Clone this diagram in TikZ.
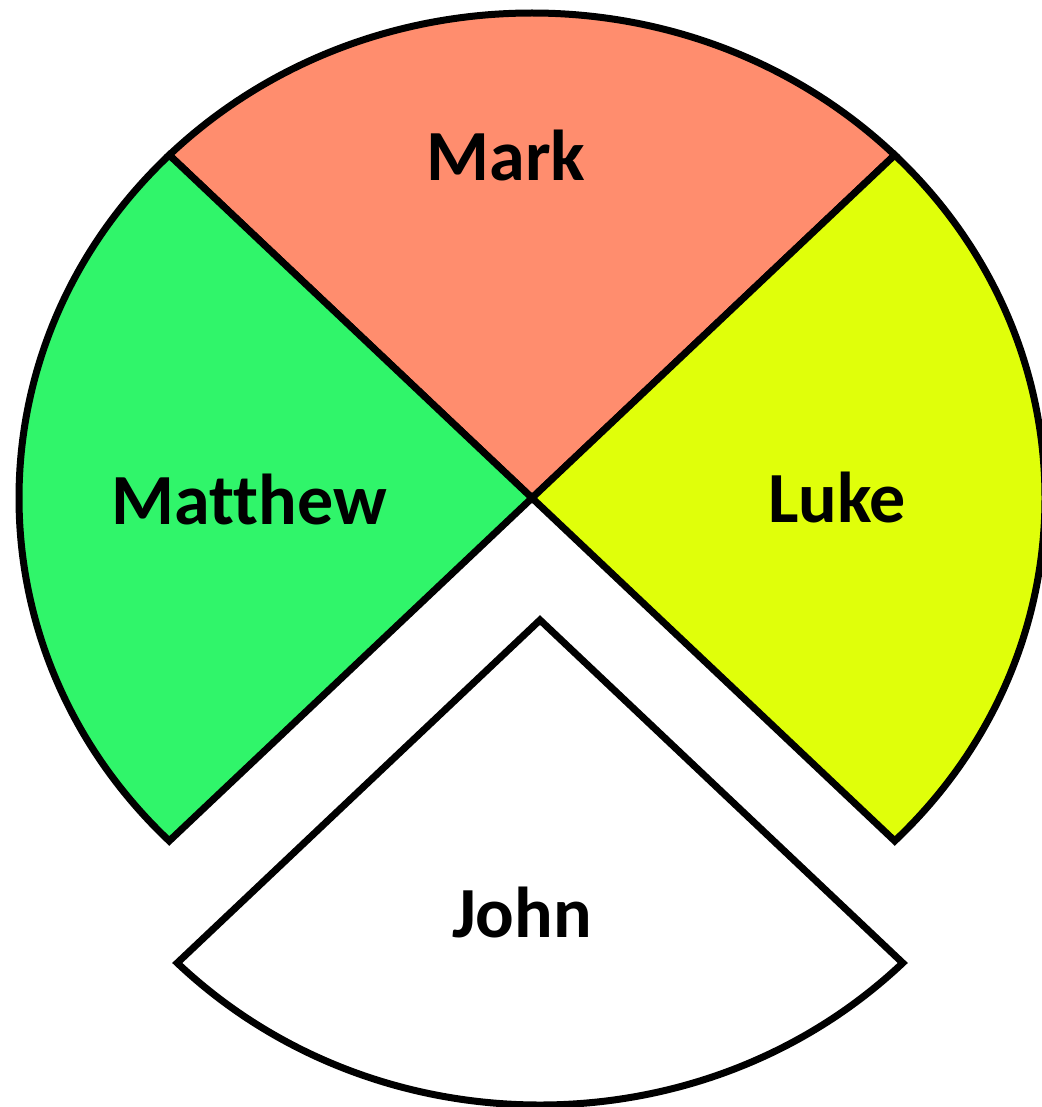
\documentclass[tikz,border=0pt]{standalone}
\usepackage{fontspec}
\setmainfont{Carlito}[Ligatures=NoCommon]
\definecolor{markc}{HTML}{FF8D6E}
\definecolor{matthewc}{HTML}{30F56A}
\definecolor{lukec}{HTML}{E0FF0A}
\begin{document}
\begin{tikzpicture}[x=1pt,y=-1pt,
  sector/.style={draw=black,line width=7pt,line join=miter},
  lbl/.style={anchor=base,font=\fontsize{72}{80}\selectfont\bfseries,inner sep=0pt},
  ell/.style={x radius=513,y radius=485}]
\useasboundingbox (0,0) rectangle (1041,1107);
\coordinate (O) at (532,498);
\coordinate (J) at (540,620);
% Mark (top)
\filldraw[sector,fill=markc] (O) -- ++(225:513 and 485) arc[ell,start angle=225,end angle=315] -- cycle;
% Luke (right)
\filldraw[sector,fill=lukec] (O) -- ++(-45:513 and 485) arc[ell,start angle=-45,end angle=45] -- cycle;
% Matthew (left)
\filldraw[sector,fill=matthewc] (O) -- ++(135:513 and 485) arc[ell,start angle=135,end angle=225] -- cycle;
% John (bottom, offset)
\filldraw[sector,fill=white] (J) -- ++(45:513 and 485) arc[ell,start angle=45,end angle=135] -- cycle;
\node[lbl] (mark) at (506,181) {Mark};
\node[lbl] (matthew) at (249,524) {Matthew};
\node[lbl] (luke) at (837,522) {Luke};
\node[lbl] (john) at (522,937) {John};
\end{tikzpicture}
\end{document}
